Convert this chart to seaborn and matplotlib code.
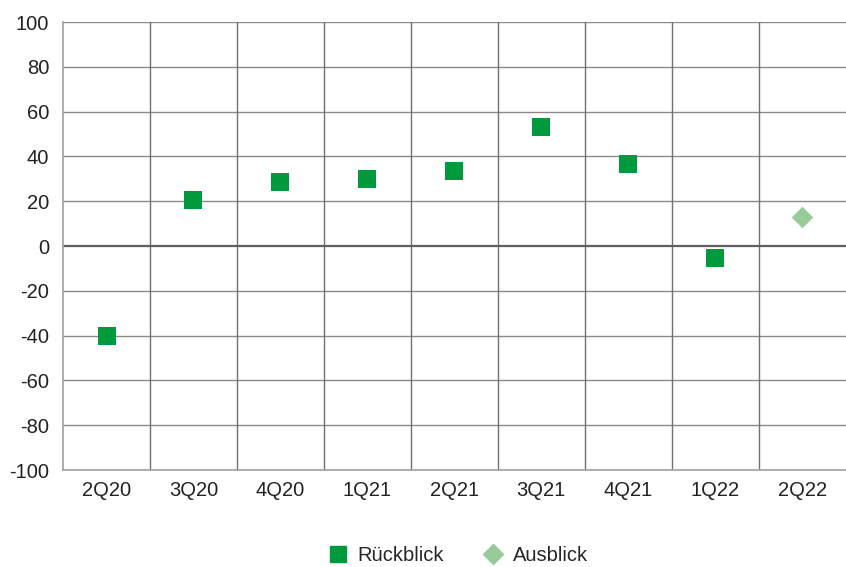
import pandas as pd
import numpy as np
import matplotlib
matplotlib.use("Agg")
import matplotlib.pyplot as plt
import seaborn as sns
from matplotlib.lines import Line2D

quarters = ["2Q20", "3Q20", "4Q20", "1Q21", "2Q21", "3Q21", "4Q21", "1Q22", "2Q22"]
values = [-40, 20.5, 28.5, 30, 33.5, 53, 36.5, -5.5, 13]
series = ["Rückblick"] * 8 + ["Ausblick"]
y_ticks = [-100, -80, -60, -40, -20, 0, 20, 40, 60, 80, 100]

colors = {"Rückblick": "#009a3e", "Ausblick": "#98cb9a"}
markers = {"Rückblick": "s", "Ausblick": "D"}

data = pd.DataFrame({"Quartal": quarters, "Wert": values, "Serie": series})

sns.set_theme(style="white")
plt.rcParams["font.family"] = ["Liberation Sans", "DejaVu Sans"]

fig = plt.figure(figsize=(8.46, 5.67), dpi=100)
ax = fig.add_axes([0.0745, 0.171, 0.925, 0.790])

for name in ["Rückblick", "Ausblick"]:
    sub = data[data.Serie == name]
    sns.scatterplot(data=sub, x="Quartal", y="Wert", marker=markers[name],
                    color=colors[name], s=150 if name == "Rückblick" else 120,
                    linewidth=0, ax=ax, zorder=5, legend=False)

ax.set_xlim(-0.5, len(quarters) - 0.5)
ax.set_ylim(-100, 100)
ax.set_yticks(y_ticks)
ax.set_yticklabels([str(t) for t in y_ticks])
ax.set_xticks(range(len(quarters)))
ax.set_xticklabels(quarters)
ax.set_xlabel("")
ax.set_ylabel("")

for t in y_ticks:
    if t == 0:
        ax.axhline(0, color="#606060", lw=1.6, zorder=2)
    elif t != -100:
        ax.axhline(t, color="#8a8a8a", lw=1.0, zorder=1)
for b in np.arange(0.5, len(quarters) - 0.5, 1):
    ax.axvline(b, color="#707070", lw=1.0, zorder=1)

for side in ["top", "right"]:
    ax.spines[side].set_visible(False)
for side in ["left", "bottom"]:
    ax.spines[side].set_color("#a0a0a0")
    ax.spines[side].set_linewidth(1.2)

ax.tick_params(axis="both", length=0, labelsize=14.5, colors="#222222")
ax.tick_params(axis="y", pad=10)
ax.tick_params(axis="x", pad=8)

handles = [
    Line2D([], [], marker="s", color=colors["Rückblick"], lw=0, markersize=11.5, label="Rückblick"),
    Line2D([], [], marker="D", color=colors["Ausblick"], lw=0, markersize=10, label="Ausblick"),
]
fig.legend(handles=handles, loc="center", bbox_to_anchor=(0.541, 0.02), ncol=2,
           frameon=False, fontsize=14.5, handlelength=1.0, handletextpad=0.5,
           columnspacing=1.9)

fig.savefig("out.png", dpi=100)
